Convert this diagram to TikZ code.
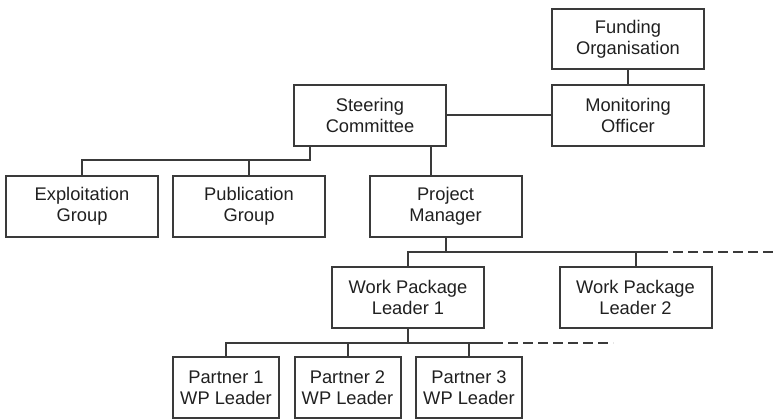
\documentclass[tikz,border=0pt]{standalone}
\usepackage{fontspec}
\setmainfont{Liberation Sans}
\definecolor{ink}{HTML}{3A3A3A}
\definecolor{txt}{HTML}{202020}
\begin{document}
\begin{tikzpicture}[x=1pt,y=-1pt,
  box/.style={draw=ink,line width=2pt,fill=white,align=center,text=txt,
    font=\fontsize{18.3}{21}\selectfont,inner sep=0pt,minimum height=61pt},
  wide/.style={box,minimum width=152pt},
  narrow/.style={box,minimum width=106pt},
  link/.style={draw=ink,line width=2pt},
  more/.style={link,dash pattern=on 10pt off 5pt}]
\useasboundingbox (0,0) rectangle (773,419);

% top levels
\node[wide,minimum height=60pt] (fund) at (628,39) {Funding\\Organisation};
\node[wide] (mon) at (628,115.5) {Monitoring\\Officer};
\node[wide] (steer) at (370,115.5) {Steering\\Committee};

% committee reports
\node[wide] (expl) at (82,206.5) {Exploitation\\Group};
\node[wide] (pub) at (249,206.5) {Publication\\Group};
\node[wide] (pm) at (445.5,206.5) {Project\\Manager};

% work packages
\node[wide] (wp1) at (408,297.5) {Work Package\\Leader 1};
\node[wide] (wp2) at (635.5,297.5) {Work Package\\Leader 2};

% partners
\node[narrow] (p1) at (226,387.5) {Partner 1\\WP Leader};
\node[narrow] (p2) at (347.5,387.5) {Partner 2\\WP Leader};
\node[narrow] (p3) at (469,387.5) {Partner 3\\WP Leader};

% bus junctions
\coordinate (b1) at (310,160);
\coordinate (b2) at (446,252);
\coordinate (b2e) at (658,252);
\coordinate (b2d) at (773,252);
\coordinate (b3) at (408,343);
\coordinate (b3e) at (493,343);
\coordinate (b3d) at (613,343);

% connectors
\draw[link] (fund.south) -- (mon.north);
\draw[link] (steer.east) -- (mon.west);
\draw[link] (steer.south -| b1) -- (b1) -| (expl.north);
\draw[link] (b1 -| pub.north) -- (pub.north);
\draw[link] (steer.south -| 431,0) -- (pm.north -| 431,0);

\draw[link] (pm.south -| b2) -- (b2);
\draw[link] (wp1.north) |- (b2e);
\draw[more] (b2e) -- (b2d);
\draw[link] (b2 -| wp2.north) -- (wp2.north);

\draw[link] (wp1.south) -- (b3);
\draw[link] (p1.north) |- (b3e);
\draw[more] (b3e) -- (b3d);
\draw[link] (b3 -| p2.north) -- (p2.north);
\draw[link] (b3 -| p3.north) -- (p3.north);
\end{tikzpicture}
\end{document}
